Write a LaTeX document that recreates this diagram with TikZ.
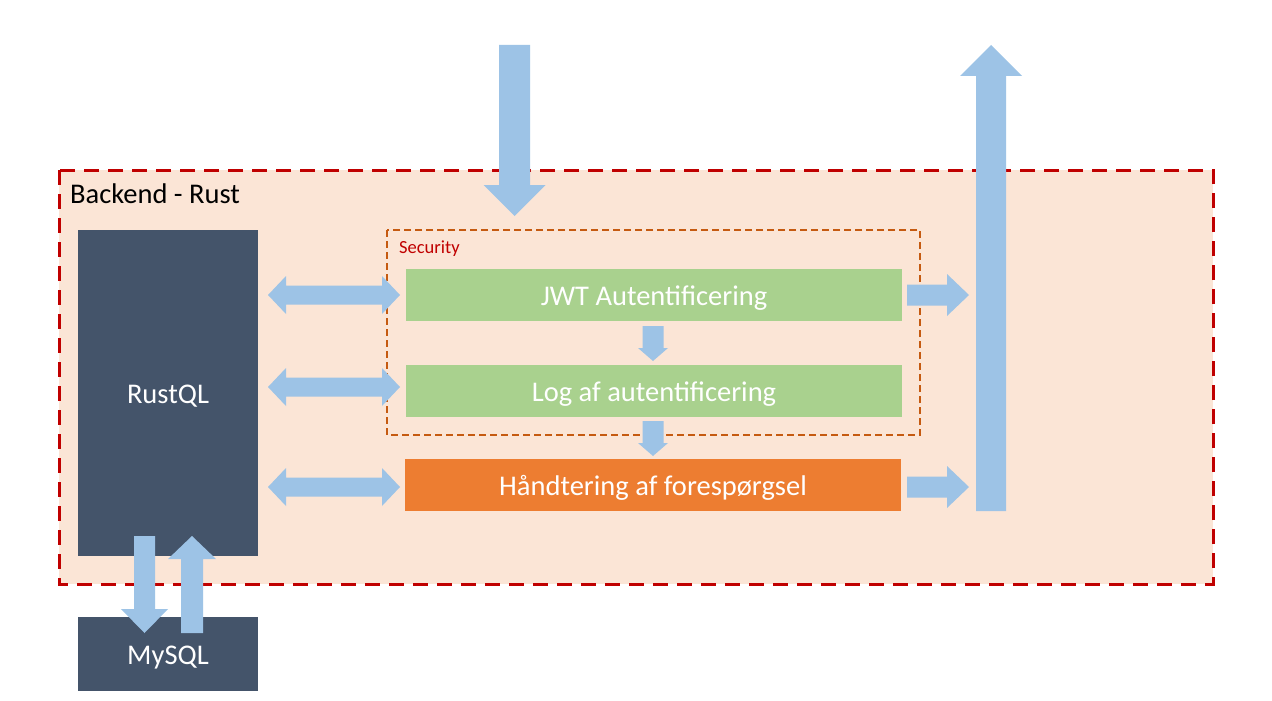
\documentclass[tikz,border=0pt]{standalone}
\usepackage{fontspec}
\setmainfont{Carlito}
\definecolor{outerfill}{HTML}{FBE5D6}
\definecolor{outerline}{HTML}{C00000}
\definecolor{secline}{HTML}{C55A11}
\definecolor{darkbox}{HTML}{44546A}
\definecolor{greenbox}{HTML}{A9D18E}
\definecolor{orangebox}{HTML}{ED7D31}
\definecolor{arrowblue}{HTML}{9DC3E6}
\newcommand{\arrRight}[6]{% x1 x2 yc shaftHalf headHalf headLen
  \fill[blockarrow] (#1,{#3-#4}) -- ({#2-#6},{#3-#4}) -- ({#2-#6},{#3-#5}) -- (#2,#3)
   -- ({#2-#6},{#3+#5}) -- ({#2-#6},{#3+#4}) -- (#1,{#3+#4}) -- cycle;}
\newcommand{\arrBoth}[6]{% x1 x2 yc shaftHalf headHalf headLen
  \fill[blockarrow] (#1,#3) -- ({#1+#6},{#3-#5}) -- ({#1+#6},{#3-#4}) -- ({#2-#6},{#3-#4})
   -- ({#2-#6},{#3-#5}) -- (#2,#3) -- ({#2-#6},{#3+#5}) -- ({#2-#6},{#3+#4})
   -- ({#1+#6},{#3+#4}) -- ({#1+#6},{#3+#5}) -- cycle;}
\newcommand{\arrDown}[6]{% xc y1 y2(tip) shaftHalf headHalf headLen
  \fill[blockarrow] ({#1-#4},#2) -- ({#1-#4},{#3-#6}) -- ({#1-#5},{#3-#6}) -- (#1,#3)
   -- ({#1+#5},{#3-#6}) -- ({#1+#4},{#3-#6}) -- ({#1+#4},#2) -- cycle;}
\newcommand{\arrUp}[6]{% xc y1(tip) y2 shaftHalf headHalf headLen
  \fill[blockarrow] ({#1-#4},#3) -- ({#1-#4},{#2+#6}) -- ({#1-#5},{#2+#6}) -- (#1,#2)
   -- ({#1+#5},{#2+#6}) -- ({#1+#4},{#2+#6}) -- ({#1+#4},#3) -- cycle;}
\begin{document}
\begin{tikzpicture}[x=1pt,y=-1pt,
  blockarrow/.style={fill=arrowblue},
  bigtext/.style={font=\fontsize{28.5}{34}\selectfont},
  boxnode/.style={bigtext, text=white, inner sep=0pt, anchor=center, text height=20pt, text depth=0pt},
  darknode/.style={boxnode, fill=darkbox, minimum width=180pt},
  greennode/.style={boxnode, fill=greenbox, minimum width=496pt, minimum height=52pt},
  orangenode/.style={boxnode, fill=orangebox, minimum width=496pt, minimum height=52pt}]
\useasboundingbox (0,0) rectangle (1272,701);
\fill[white] (0,0) rectangle (1272,701);
% outer backend box
\draw[fill=outerfill, draw=outerline, line width=3pt, dash pattern=on 15pt off 9pt]
  (59,170) rectangle (1213,584);
\node[bigtext, anchor=base west, inner sep=0pt] (backend) at (70,203) {Backend - Rust};
% security box
\draw[draw=secline, line width=1.5pt, dash pattern=on 7pt off 4pt]
  (387,230) rectangle (920,435);
\node[font=\fontsize{18.5}{22}\selectfont, text=outerline, anchor=base west, inner sep=0pt] (security) at (399,253) {Security};
% boxes
\node[darknode, minimum height=326pt] (rust) at (168,393) {RustQL};
\node[darknode, minimum height=74pt] (mysql) at (168,654) {MySQL};
\node[greennode] (jwt) at (654,295) {JWT Autentificering};
\node[greennode] (log) at (654,391) {Log af autentificering};
\node[orangenode] (hand) at (653,485) {Håndtering af forespørgsel};
% arrows
\arrDown{514.5}{45}{216}{15.5}{31}{31}
\arrUp{991}{45}{511}{15}{31}{31}
\arrRight{907}{969}{295}{10.5}{21}{22}
\arrRight{907}{969}{487}{10.5}{21}{22}
\arrBoth{268}{400}{295}{9.5}{19}{18}
\arrBoth{268}{400}{387}{9.5}{19}{18}
\arrBoth{268}{400}{487}{9.5}{19}{18}
\arrDown{653}{326}{361}{10.5}{15}{13}
\arrDown{653}{421}{456}{10.5}{15}{13}
\arrDown{144.5}{536}{633}{10.5}{23.5}{24}
\arrUp{192}{536}{633}{11}{24}{23}
\end{tikzpicture}
\end{document}
